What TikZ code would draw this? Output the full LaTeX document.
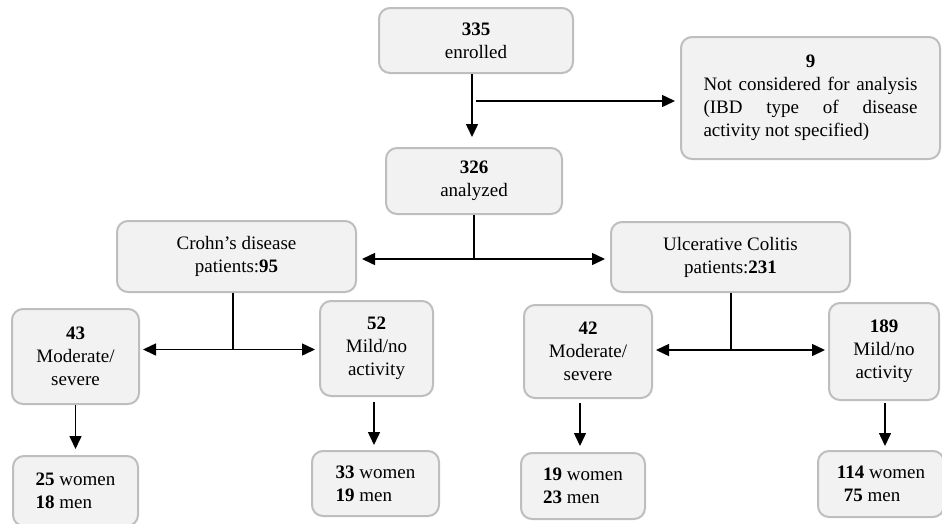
\documentclass[tikz,border=0pt]{standalone}
\usepackage{fontspec}
\setmainfont{Liberation Serif}
\usetikzlibrary{arrows.meta,calc}
\definecolor{boxfill}{RGB}{242,242,242}
\definecolor{boxline}{RGB}{190,190,190}
\begin{document}
\begin{tikzpicture}[x=1pt,y=-1pt,
  box/.style={draw=boxline,fill=boxfill,line width=2pt,rounded corners=11pt,
    align=center,inner sep=2pt,font=\fontsize{19}{23}\selectfont},
  conn/.style={line width=1.5pt,draw=black},
  arr/.style={conn,-{Triangle[length=13pt,width=12pt]}},
  darr/.style={conn,{Triangle[length=13pt,width=12pt]}-{Triangle[length=13pt,width=12pt]}}]
\useasboundingbox (0,0) rectangle (942,523);
% nodes
\node[box,minimum width=194pt,minimum height=65pt] (enrolled) at (476,40.5) {\textbf{335}\\enrolled};
\node[box,minimum width=259pt,minimum height=122pt,text width=214pt,align=justify] (nc) at (810.5,98)
  {\hspace*{\fill}\textbf{9}\hspace*{\fill}\\Not considered for analysis\linebreak (IBD type of disease\linebreak activity not specified)};
\node[box,minimum width=176pt,minimum height=66pt] (analyzed) at (474,181) {\textbf{326}\\analyzed};
\node[box,minimum width=239pt,minimum height=71pt] (cd) at (236.5,256.5) {Crohn’s disease\\patients:\textbf{95}};
\node[box,minimum width=239pt,minimum height=70pt] (uc) at (730.5,257) {Ulcerative Colitis\\patients:\textbf{231}};
\node[box,minimum width=127pt,minimum height=95pt] (m43) at (75.5,356.5) {\textbf{43}\\Moderate/\\severe};
\node[box,minimum width=113pt,minimum height=95pt] (m52) at (376.5,348.5) {\textbf{52}\\Mild/no\\activity};
\node[box,minimum width=128pt,minimum height=93pt] (m42) at (588,351.5) {\textbf{42}\\Moderate/\\severe};
\node[box,minimum width=110pt,minimum height=97pt] (m189) at (884,351.5) {\textbf{189}\\Mild/no\\activity};
\node[box,minimum width=125pt,minimum height=70pt,align=left] (w25) at (75.5,491) {\textbf{25} women\\\textbf{18} men};
\node[box,minimum width=127pt,minimum height=65pt,align=left] (w33) at (375.5,483.5) {\textbf{33} women\\\textbf{19} men};
\node[box,minimum width=124pt,minimum height=66pt,align=left] (w19) at (583,486) {\textbf{19} women\\\textbf{23} men};
\node[box,minimum width=126pt,minimum height=66pt,align=left] (w114) at (881,484) {\textbf{114} women\\\hspace*{7pt}\textbf{75} men};
% connectors top
\coordinate (e1) at ([xshift=-4pt]enrolled.south);
\coordinate (a1) at ([yshift=10pt]analyzed.north);
\draw[arr] (e1) -- (e1 |- a1);
\coordinate (b1) at (476,101);
\draw[arr] (b1) -- ([xshift=-5pt]nc.west |- b1);
% analyzed split
\coordinate (a2) at (474,259);
\draw[conn] (analyzed.south) -- (a2);
\draw[darr] ([xshift=5pt]cd.east |- a2) -- ([xshift=-5pt]uc.west |- a2);
% Crohn split
\coordinate (c1) at ([xshift=-3.5pt]cd.south);
\coordinate (c2) at (233,349.5);
\draw[conn] (c1) -- (c2);
\draw[darr] ([xshift=3pt]m43.east |- c2) -- ([xshift=-4pt]m52.west |- c2);
% UC split
\coordinate (u1) at ([xshift=0.5pt]uc.south);
\coordinate (u2) at (731,350);
\draw[conn] (u1) -- (u2);
\draw[darr] ([xshift=3pt]m42.east |- u2) -- ([xshift=-3pt]m189.west |- u2);
% down arrows
\draw[arr] (m43.south) -- ([yshift=6pt]m43.south |- w25.north);
\draw[arr] ([xshift=-2.5pt,yshift=-5pt]m52.south) -- ([xshift=-2.5pt,yshift=5pt]m52.south |- w33.north);
\draw[arr] ([xshift=-8pt,yshift=-4pt]m42.south) -- ([xshift=-8pt,yshift=6pt]m42.south |- w19.north);
\draw[arr] ([xshift=1pt,yshift=-2pt]m189.south) -- ([xshift=1pt,yshift=4pt]m189.south |- w114.north);
\end{tikzpicture}
\end{document}
